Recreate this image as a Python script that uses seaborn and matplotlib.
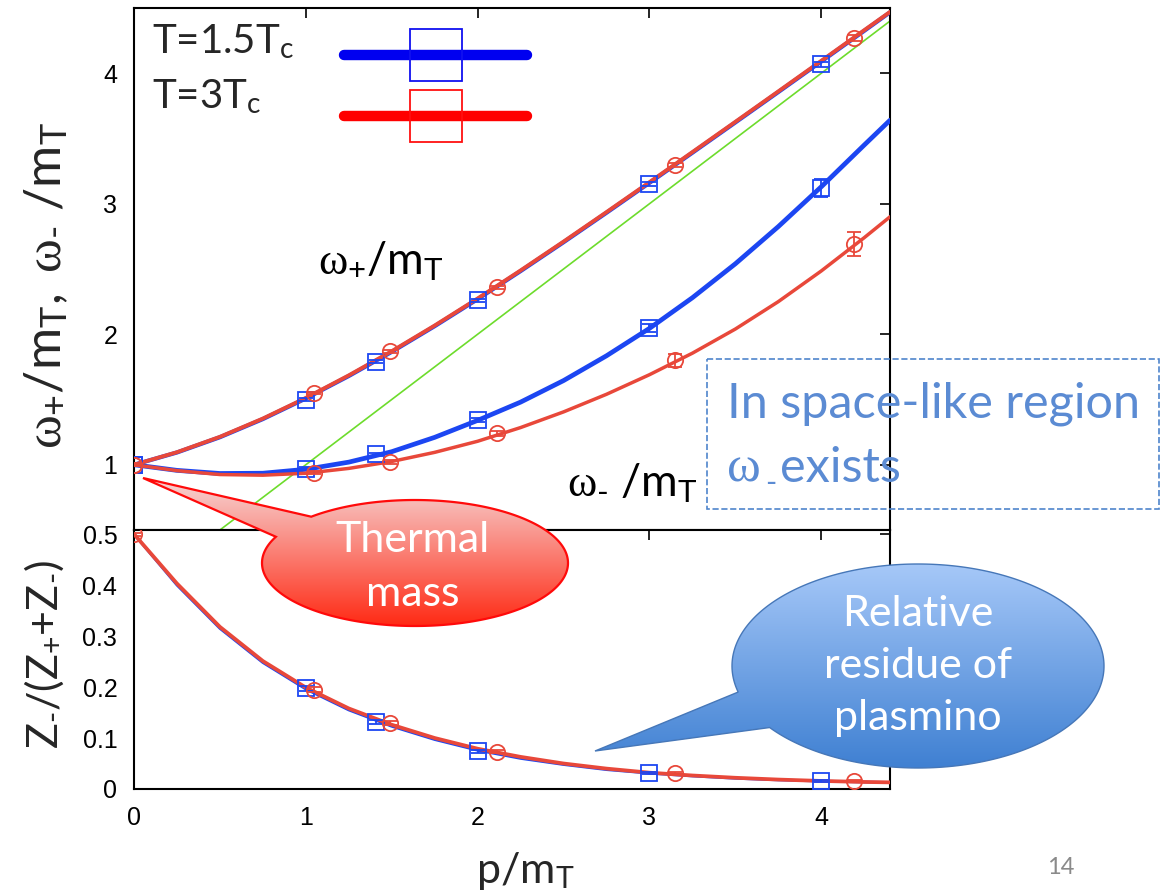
import numpy as np
import matplotlib
matplotlib.use("Agg")
import matplotlib.pyplot as plt
import seaborn as sns
from matplotlib.lines import Line2D
from matplotlib.patches import Polygon, Rectangle
from matplotlib.colors import LinearSegmentedColormap

# fitted curves at fixed p/m_T
p_curve = [0.0, 0.25, 0.5, 0.75, 1.0, 1.25, 1.5, 1.75, 2.0, 2.25, 2.5,
           2.75, 3.0, 3.25, 3.5, 3.75, 4.0, 4.25, 4.4]
wplus_15 = [1.00, 1.094, 1.211, 1.350, 1.508, 1.680, 1.865, 2.062, 2.269, 2.484, 2.705,
            2.931, 3.160, 3.391, 3.623, 3.856, 4.090, 4.325, 4.467]
wplus_3 = [1.00, 1.096, 1.214, 1.354, 1.512, 1.685, 1.870, 2.067, 2.274, 2.489, 2.710,
           2.936, 3.165, 3.396, 3.628, 3.861, 4.095, 4.330, 4.470]
wminus_15 = [1.00, 0.957, 0.933, 0.935, 0.965, 1.020, 1.100, 1.210, 1.340, 1.480, 1.645,
             1.835, 2.045, 2.280, 2.540, 2.825, 3.130, 3.450, 3.640]
wminus_3 = [1.00, 0.955, 0.925, 0.920, 0.935, 0.972, 1.025, 1.095, 1.180, 1.285, 1.405,
            1.540, 1.690, 1.855, 2.040, 2.250, 2.485, 2.740, 2.900]
zrel_15 = [0.50, 0.400, 0.315, 0.248, 0.196, 0.155, 0.123, 0.097, 0.076, 0.060, 0.048,
           0.038, 0.031, 0.0255, 0.021, 0.0178, 0.0155, 0.0137, 0.0128]
zrel_3 = [0.50, 0.403, 0.318, 0.251, 0.199, 0.158, 0.126, 0.100, 0.079, 0.063, 0.050,
          0.040, 0.032, 0.0265, 0.022, 0.0185, 0.0158, 0.0138, 0.0130]

# light cone omega = p
p_light = [0.5, 4.4]
w_light = [0.5, 4.4]

# lattice points, T = 1.5 Tc
p_pts_15 = [0.0, 1.0, 1.41, 2.0, 3.0, 4.0]
wplus_pts_15 = [1.0, 1.50, 1.79, 2.26, 3.15, 4.07]
wplus_err_15 = [0.01, 0.01, 0.01, 0.012, 0.015, 0.02]
wminus_pts_15 = [1.0, 0.97, 1.08, 1.34, 2.05, 3.12]
wminus_err_15 = [0.01, 0.01, 0.012, 0.015, 0.03, 0.07]
pz_pts_15 = [1.0, 1.41, 2.0, 3.0, 4.0]
z_pts_15 = [0.198, 0.131, 0.074, 0.032, 0.016]
z_err_15 = [0.005, 0.004, 0.003, 0.002, 0.002]

# lattice points, T = 3 Tc
p_pts_3 = [0.0, 1.05, 1.49, 2.11, 3.15, 4.19]
wplus_pts_3 = [1.0, 1.55, 1.87, 2.36, 3.30, 4.27]
wplus_err_3 = [0.01, 0.01, 0.01, 0.012, 0.015, 0.02]
wminus_pts_3 = [1.0, 0.94, 1.02, 1.24, 1.80, 2.69]
wminus_err_3 = [0.01, 0.01, 0.015, 0.02, 0.05, 0.09]
pz_pts_3 = [0.0, 1.05, 1.49, 2.11, 3.15, 4.19]
z_pts_3 = [0.50, 0.195, 0.129, 0.073, 0.031, 0.015]
z_err_3 = [0.003, 0.005, 0.004, 0.003, 0.002, 0.002]

x_ticks = [0, 1, 2, 3, 4]
top_yticks = [1, 2, 3, 4]
bot_yticks = [0, 0.1, 0.2, 0.3, 0.4, 0.5]
bot_yticklabels = ['0', '0.1', '0.2', '0.3', '0.4', '0.5']
legend_labels = [r'T=1.5T$_\mathsf{c}$', r'T=3T$_\mathsf{c}$']

BLUE = '#1c46f2'
RED = '#e8483a'
GREEN = '#6ddc2c'
TXT_BLUE = '#5b8bd3'

sns.set_style("white")
plt.rcParams['font.family'] = ['Liberation Sans', 'DejaVu Sans']
plt.rcParams['mathtext.fontset'] = 'custom'
plt.rcParams['mathtext.rm'] = 'Lato'
plt.rcParams['mathtext.sf'] = 'Lato'
plt.rcParams['mathtext.it'] = 'Liberation Serif'
plt.rcParams['mathtext.bf'] = 'Lato:bold'
LABEL_FONT = ['Lato', 'DejaVu Sans']
W_PLUS = r'$\omega_{+}$'
W_MINUS = r'$\omega_{\text{-}}$'

fig = plt.figure(figsize=(11.61, 8.91), dpi=100)
ax_top = fig.add_axes([0.11542, 0.40516, 0.65116, 0.58586])
ax_bot = fig.add_axes([0.11542, 0.11448, 0.65116, 0.29068])

# upper panel: dispersion
sns.lineplot(x=p_light, y=w_light, color=GREEN, lw=1.2, ax=ax_top, zorder=2)
sns.lineplot(x=p_curve, y=wplus_15, color=BLUE, lw=3.0, sort=False, ax=ax_top, zorder=3)
sns.lineplot(x=p_curve, y=wminus_15, color=BLUE, lw=3.4, sort=False, ax=ax_top, zorder=3)
sns.lineplot(x=p_curve, y=wplus_3, color=RED, lw=2.8, sort=False, ax=ax_top, zorder=4)
sns.lineplot(x=p_curve, y=wminus_3, color=RED, lw=2.5, sort=False, ax=ax_top, zorder=4)

pt_kw = dict(ls='none', markersize=11, mfc='none', mew=1.3, capsize=5, elinewidth=1.3)
for yv, ye in [(wplus_pts_15, wplus_err_15), (wminus_pts_15, wminus_err_15)]:
    ax_top.errorbar(p_pts_15, yv, yerr=ye, fmt='s', color=BLUE, mec=BLUE, zorder=5, **pt_kw)
for yv, ye in [(wplus_pts_3, wplus_err_3), (wminus_pts_3, wminus_err_3)]:
    ax_top.errorbar(p_pts_3, yv, yerr=ye, fmt='o', color=RED, mec=RED, zorder=6, **pt_kw)

# lower panel: relative residue
sns.lineplot(x=p_curve, y=zrel_15, color=BLUE, lw=2.0, sort=False, ax=ax_bot, zorder=3)
sns.lineplot(x=p_curve, y=zrel_3, color=RED, lw=2.7, sort=False, ax=ax_bot, zorder=4)
ax_bot.errorbar(pz_pts_15, z_pts_15, yerr=z_err_15, fmt='s', color=BLUE, mec=BLUE, zorder=5, **pt_kw)
ax_bot.errorbar(pz_pts_3, z_pts_3, yerr=z_err_3, fmt='o', color=RED, mec=RED, zorder=6, **pt_kw)

for ax in (ax_top, ax_bot):
    ax.set_xlim(0, 4.4)
    ax.set_xticks(x_ticks)
    for s in ax.spines.values():
        s.set_color('black')
        s.set_linewidth(1.5)
    ax.tick_params(direction='in', top=True, right=True, length=7, width=1.2,
                   labelsize=18, colors='black', pad=12)

ax_top.set_ylim(0.5, 4.5)
ax_top.set_yticks(top_yticks)
ax_top.tick_params(labelbottom=False)
ax_top.set_xlabel('')
ax_bot.set_ylim(0, 0.508)
ax_bot.set_yticks(bot_yticks)
ax_bot.set_yticklabels(bot_yticklabels)

ax_top.set_ylabel(W_PLUS + r'/m$_\mathsf{T},$ ' + W_MINUS + r' /m$_\mathsf{T}$', fontsize=37,
                  family=LABEL_FONT)
ax_top.yaxis.set_label_coords(-0.085, 0.469)
ax_bot.set_ylabel(r'Z$_{\text{-}}$/(Z$_{+}$+Z$_{\text{-}}$)', fontsize=31, family=LABEL_FONT)
ax_bot.yaxis.set_label_coords(-0.09, 0.52)
ax_bot.set_xlabel(r'p/m$_\mathsf{T}$', fontsize=31, family=LABEL_FONT)
ax_bot.xaxis.set_label_coords(0.517, -0.235)

# legend samples: one single-entry legend per temperature, labels written beside them
leg_style = [('#0000f0', '#1010f0', 0.9100), ('#ff0000', '#ff1010', 0.7931)]
legs = []
for line_c, edge_c, y_anchor in leg_style:
    h = Line2D([], [], color=line_c, lw=7.5, marker='s', markersize=38, mfc='none',
               mec=edge_c, mew=1.3)
    lg = ax_top.legend([h], [''], loc='center left', bbox_to_anchor=(0.2778, y_anchor),
                       frameon=False, numpoints=1, fontsize=1, handlelength=131.8,
                       handleheight=0.7, handletextpad=0, borderpad=0, borderaxespad=0)
    legs.append(lg)
ax_top.add_artist(legs[0])

# overlay in pixel coordinates for the slide annotations
ov = fig.add_axes([0, 0, 1, 1], zorder=10)
ov.set_axis_off()
ov.patch.set_alpha(0)

ov.text(152, 53, legend_labels[0], ha='left', va='baseline', fontsize=29, family=LABEL_FONT)
ov.text(152, 108, legend_labels[1], ha='left', va='baseline', fontsize=29, family=LABEL_FONT)


def callout(cx, cy, a, b, t_from, t_to, tip, c_top, c_bot, edge, lw):
    th = np.radians(np.linspace(t_from, t_to, 300))
    pts = np.column_stack([cx + a * np.cos(th), cy + b * np.sin(th)])
    pts = np.vstack([pts, tip])
    poly = Polygon(pts, closed=True, fc='none', ec=edge, lw=lw, zorder=6)
    ov.add_patch(poly)
    grad = np.linspace(0, 1, 256).reshape(-1, 1)
    cmap = LinearSegmentedColormap.from_list('g', [c_top, c_bot])
    im = ov.imshow(grad, cmap=cmap, aspect='auto', zorder=5,
                   extent=(pts[:, 0].min(), pts[:, 0].max(), pts[:, 1].max(), pts[:, 1].min()))
    im.set_clip_path(poly)


callout(415, 563, 153, 63, 227.3, 564.6, (143, 478), '#f6d6d6', '#ff2a14', '#ff0a0a', 1.6)
callout(918, 666, 186, 102, 165.2, 502.9, (595, 751), '#a6c8f8', '#3f80d2', '#4677b8', 1.0)

ov.text(413, 567, 'Thermal\nmass', color='white', ha='center', va='center', fontsize=31,
        family=LABEL_FONT, linespacing=1.5, zorder=7)
ov.text(918, 666, 'Relative\nresidue of\nplasmino', color='white', ha='center', va='center',
        fontsize=31, family=LABEL_FONT, linespacing=1.45, zorder=7)

ov.add_patch(Rectangle((707, 359), 452, 150, fc='none', ec='#4f85cc', lw=1.2, ls='--', zorder=6))
ov.text(727, 418, 'In space-like region', color=TXT_BLUE, ha='left', va='baseline', fontsize=35,
        family=LABEL_FONT, zorder=7)
ov.text(727, 482, '\u03c9', color=TXT_BLUE, ha='left', va='baseline', fontsize=37,
        family=['Liberation Serif', 'DejaVu Serif'], zorder=7)
ov.text(765, 492, '-', color=TXT_BLUE, ha='left', va='baseline', fontsize=22,
        family=LABEL_FONT, zorder=7)
ov.text(780, 482, 'exists', color=TXT_BLUE, ha='left', va='baseline', fontsize=35,
        family=LABEL_FONT, zorder=7)

ov.text(381, 261, W_PLUS + r'/m$_\mathsf{T}$', color='black', ha='center', va='center',
        fontsize=32, family=LABEL_FONT, zorder=7)
ov.text(632, 482, W_MINUS + r' /m$_\mathsf{T}$', color='black', ha='center', va='center',
        fontsize=32, family=LABEL_FONT, zorder=7)
ov.text(1061, 867, '14', color='#8a8a8a', ha='center', va='center', fontsize=17,
        family=LABEL_FONT, zorder=7)

ov.set_xlim(0, 1161)
ov.set_ylim(891, 0)

fig.savefig('out.png', dpi=100)
